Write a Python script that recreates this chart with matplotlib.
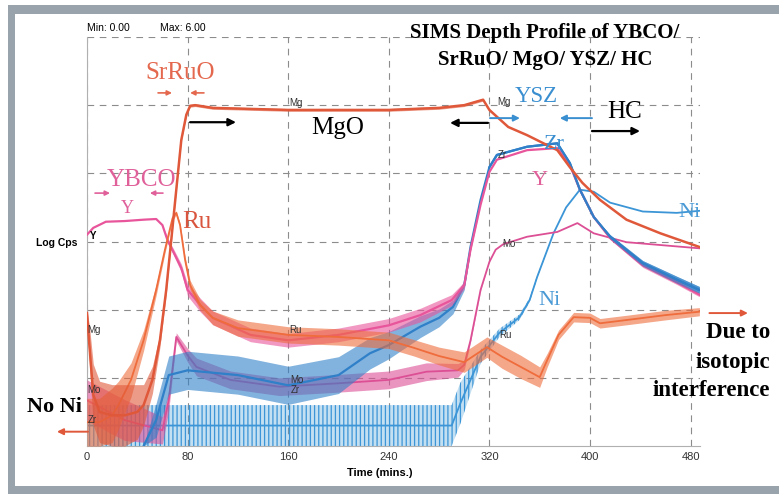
import numpy as np
import matplotlib.pyplot as plt
from matplotlib.patches import Rectangle

plt.rcParams['font.family'] = ['Liberation Sans', 'DejaVu Sans']
plt.rcParams['hatch.linewidth'] = 0.9

# depth profile traces, log counts/s vs sputter time (min)
# *_n = half width of the noisy band
mg_t = [0, 2, 5, 10, 20, 30, 40, 45, 52, 58, 63, 67, 71, 75, 79, 82, 86, 100, 160, 240, 280, 300, 315, 320, 335, 350, 374, 384, 394, 408, 429, 456, 487]
mg_v = [1.95, 1.45, 0.75, 0.5, 0.45, 0.45, 0.5, 0.6, 0.97, 1.55, 2.29, 3.02, 3.76, 4.49, 4.86, 4.99, 5.0, 4.96, 4.93, 4.93, 4.96, 5.0, 5.08, 4.93, 4.68, 4.56, 4.34, 4.09, 3.86, 3.61, 3.32, 3.12, 2.92]
mg_n = [0.05, 0.3, 0.45, 0.45, 0.45, 0.45, 0.4, 0.3, 0.2, 0.1, 0.06, 0.03, 0.02, 0.02, 0.02, 0.02, 0.02, 0.02, 0.02, 0.02, 0.02, 0.02, 0.02, 0.02, 0, 0, 0, 0, 0, 0, 0, 0, 0]

ru_t = [0, 10, 20, 25, 35, 45, 55, 62, 68, 71, 74, 78, 82, 90, 100, 120, 160, 200, 240, 260, 280, 300, 318, 330, 345, 360, 366, 375, 387, 400, 408, 430, 460, 487]
ru_v = [0.35, 0.35, 0.45, 0.6, 0.97, 1.55, 2.29, 2.88, 3.34, 3.42, 3.24, 2.73, 2.36, 2.07, 1.88, 1.73, 1.63, 1.6, 1.55, 1.44, 1.32, 1.23, 1.45, 1.31, 1.16, 1.01, 1.26, 1.63, 1.89, 1.88, 1.8, 1.85, 1.92, 1.97]
ru_n = [0.35, 0.35, 0.4, 0.35, 0.25, 0.15, 0.08, 0.05, 0.03, 0.03, 0.03, 0.05, 0.07, 0.08, 0.1, 0.12, 0.12, 0.12, 0.12, 0.12, 0.13, 0.15, 0.15, 0.17, 0.17, 0.15, 0.1, 0.07, 0.07, 0.07, 0.07, 0.07, 0.07, 0.06]

y_t = [0, 5, 15, 30, 45, 55, 60, 64, 70, 75, 80, 90, 100, 130, 160, 200, 240, 265, 290, 300, 305, 313, 320, 326, 350, 374, 384, 392, 403, 416, 442, 469, 487]
y_v = [3.10, 3.20, 3.29, 3.30, 3.32, 3.33, 3.24, 3.02, 2.80, 2.61, 2.29, 2.07, 1.88, 1.63, 1.55, 1.63, 1.77, 1.92, 2.14, 2.36, 2.88, 3.54, 4.02, 4.20, 4.34, 4.37, 4.12, 3.76, 3.36, 3.05, 2.65, 2.40, 2.22]
y_n = [0, 0, 0, 0, 0, 0, 0, 0.04, 0.05, 0.06, 0.09, 0.1, 0.1, 0.1, 0.1, 0.1, 0.1, 0.1, 0.08, 0.05, 0.02, 0, 0, 0, 0, 0, 0, 0, 0, 0.02, 0.03, 0.03, 0.03]

zr_t = [45, 55, 65, 80, 120, 160, 200, 225, 240, 265, 280, 291, 300, 305, 313, 320, 326, 350, 374, 384, 392, 403, 416, 442, 469, 487]
zr_v = [0.0, 0.38, 1.04, 1.11, 1.04, 0.89, 1.04, 1.36, 1.48, 1.75, 1.88, 2.04, 2.36, 2.92, 3.61, 4.09, 4.27, 4.39, 4.44, 4.15, 3.76, 3.36, 3.07, 2.68, 2.44, 2.29]
zr_n = [0, 0.25, 0.28, 0.28, 0.28, 0.28, 0.27, 0.23, 0.2, 0.16, 0.13, 0.1, 0.07, 0.04, 0.02, 0, 0, 0, 0, 0, 0, 0, 0.03, 0.04, 0.05, 0.05]

ni_t = [0, 290, 297, 313, 328, 344, 352, 358, 371, 381, 392, 403, 416, 442, 469, 487]
ni_v = [0.3, 0.3, 0.63, 1.31, 1.66, 1.89, 2.14, 2.48, 3.12, 3.5, 3.76, 3.73, 3.57, 3.44, 3.42, 3.45]
ni_n = [0.3, 0.3, 0.3, 0.1, 0.06, 0.04, 0.03, 0.02, 0, 0, 0, 0, 0, 0, 0, 0]

mo_t = [0, 30, 60, 65, 71, 80, 87, 114, 153, 200, 240, 270, 295, 300, 305, 313, 320, 325, 331, 350, 374, 390, 403, 429, 487]
mo_v = [0.67, 0.38, 0.23, 0.67, 1.6, 1.33, 1.16, 0.97, 0.87, 0.92, 0.97, 1.09, 1.11, 1.19, 1.55, 2.29, 2.7, 2.88, 2.96, 3.07, 3.14, 3.27, 3.12, 2.99, 2.9]
mo_n = [0.3, 0.3, 0.2, 0.15, 0.06, 0.1, 0.13, 0.13, 0.13, 0.13, 0.13, 0.13, 0.1, 0.07, 0.03, 0.01, 0, 0, 0, 0, 0, 0, 0, 0, 0]

xticks = [0, 80, 160, 240, 320, 400, 480]

c_mg = '#e0583a'
c_ru = '#ef6c3c'
c_y = '#e8559b'
c_mo = '#dc4f95'
c_zr = '#2f80c8'
c_ni = '#3b95d6'

W, H = 779, 494
fig = plt.figure(figsize=(W/100, H/100), dpi=100)
fig.patch.set_facecolor('white')

def fx(px):
    return px/W
def fy(py):
    return 1 - py/H

# scanned frame
fc = '#98a3ab'
fig.add_artist(Rectangle((fx(8), fy(494)), 7/W, 489/H, transform=fig.transFigure, color=fc, lw=0))
fig.add_artist(Rectangle((fx(8), fy(14)), 771/W, 9/H, transform=fig.transFigure, color=fc, lw=0))
fig.add_artist(Rectangle((fx(8), fy(494)), 771/W, 8/H, transform=fig.transFigure, color=fc, lw=0))

ax = fig.add_axes([fx(87), fy(446), (700-87)/W, (446-37)/H])
ax.set_xlim(0, 487.5)
ax.set_ylim(0, 6)

def trace(t, v, n, c, lw=1.2, hatch=None, alpha=0.6, z=2):
    t = np.array(t); v = np.array(v); n = np.array(n)
    if hatch:
        ax.fill_between(t, v-n, v+n, facecolor=c, alpha=0.3, lw=0, zorder=z)
        ax.fill_between(t, v-n, v+n, facecolor='none', edgecolor=c, hatch=hatch, lw=0, zorder=z)
    else:
        ax.fill_between(t, v-n, v+n, color=c, alpha=alpha, lw=0, zorder=z)
    ax.plot(t, v, color=c, lw=lw, zorder=z)

trace(ni_t, ni_v, ni_n, c_ni, lw=1.3, hatch='||||', z=2)
trace(mo_t, mo_v, mo_n, c_mo, lw=1.3, z=3)
trace(zr_t, zr_v, zr_n, c_zr, lw=1.6, z=3)
trace(y_t, y_v, y_n, c_y, lw=1.6, z=4)
trace(zr_t[15:], zr_v[15:], zr_n[15:], c_zr, lw=1.6, z=4)
trace(ru_t, ru_v, ru_n, c_ru, lw=1.3, z=5)
trace(mg_t, mg_v, mg_n, c_mg, lw=1.8, z=6)

ax.set_xticks(xticks)
ax.set_yticks([1, 2, 3, 4, 5, 6])
ax.set_yticklabels([])
ax.grid(True, ls=(0, (6, 5)), color='#8c8c8c', lw=0.8)
ax.tick_params(length=0)
ax.tick_params(axis='x', labelsize=8, colors='#333333', pad=4)
for s in ['top', 'right']:
    ax.spines[s].set_visible(False)
for s in ['left', 'bottom']:
    ax.spines[s].set_color('#b0b0b0')

fig.text(fx(380), fy(473), 'Time (mins.)', ha='center', va='center', fontsize=8, fontweight='bold')
fig.text(fx(57), fy(243), 'Log Cps', ha='center', va='center', fontsize=7.5, fontweight='bold')
fig.text(fx(87), fy(28), 'Min: 0.00', ha='left', va='center', fontsize=7.5)
fig.text(fx(160), fy(28), 'Max: 6.00', ha='left', va='center', fontsize=7.5)

serif = 'Liberation Serif'
fig.text(fx(545), fy(33), 'SIMS Depth Profile of YBCO/', ha='center', va='center', fontsize=15, fontweight='bold', family=serif)
fig.text(fx(545), fy(60), 'SrRuO/ MgO/ YSZ/ HC', ha='center', va='center', fontsize=15, fontweight='bold', family=serif)

# small trace labels
small = dict(fontsize=7, color='#333333', va='center', zorder=8)
for t, v, s in [(0.5, 1.70, 'Mg'), (0.5, 0.82, 'Mo'), (0.5, 0.38, 'Zr'),
                (161, 5.03, 'Mg'), (161, 1.70, 'Ru'), (162, 0.97, 'Mo'), (162, 0.82, 'Zr'),
                (326, 5.04, 'Mg'), (327, 4.27, 'Zr'), (330, 2.96, 'Mo'), (328, 1.63, 'Ru')]:
    ax.text(t, v, s, **small)
ax.text(2, 3.08, 'Y', fontsize=7, fontweight='bold', va='center', zorder=8)

def lab(t, v, s, c, size):
    ax.text(t, v, s, color=c, fontsize=size, family=serif, ha='center', va='center', zorder=9, clip_on=False)

lab(74, 5.47, 'SrRuO', '#e4684e', 18)
lab(199, 4.66, 'MgO', 'black', 18)
lab(43.7, 3.90, 'YBCO', '#e0609a', 18)
lab(31.8, 3.49, 'Y', '#e0609a', 13)
lab(87.5, 3.29, 'Ru', '#d9553e', 18)
lab(357, 5.12, 'YSZ', '#3a8fd0', 16.5)
lab(427.8, 4.90, 'HC', 'black', 18)
lab(372, 4.43, 'Zr', '#3a8fd0', 16)
lab(360, 3.90, 'Y', '#e0609a', 16)
lab(479.5, 3.42, 'Ni', '#4a9ad6', 16)
lab(368, 2.14, 'Ni', '#4a9ad6', 16)

def arrow(t0, t1, v, c, lw=1.4, ms=9):
    ax.annotate('', xy=(t1, v), xytext=(t0, v), annotation_clip=False, zorder=9,
                arrowprops=dict(arrowstyle='-|>', color=c, lw=lw, mutation_scale=ms, shrinkA=0, shrinkB=0))

arrow(56.5, 67.6, 5.18, '#e4684e', 1.2, 7)
arrow(93, 82, 5.18, '#e4684e', 1.2, 7)
arrow(82, 118.5, 4.75, 'black', 1.6, 11)
arrow(6.4, 18.3, 3.71, '#e0609a', 1.2, 7)
arrow(60.4, 50, 3.71, '#e0609a', 1.2, 7)
arrow(320.5, 344.3, 4.81, '#3a8fd0', 1.4, 9)
arrow(401.6, 376, 4.81, '#3a8fd0', 1.4, 9)
arrow(318.9, 288.7, 4.74, 'black', 1.6, 11)
arrow(401.6, 439.8, 4.62, 'black', 1.6, 11)
arrow(495, 525.6, 1.95, '#e0583a', 1.4, 9)
arrow(0.8, -23.9, 0.21, '#e0583a', 1.4, 9)

bold = dict(ha='right', va='center', fontsize=16.5, fontweight='bold', family=serif)
fig.text(fx(770), fy(333), 'Due to', **bold)
fig.text(fx(770), fy(362), 'isotopic', **bold)
fig.text(fx(770), fy(390), 'interference', **bold)
fig.text(fx(55), fy(407), 'No Ni', ha='center', va='center', fontsize=16, fontweight='bold', family=serif)

fig.savefig('out.png', dpi=100)
